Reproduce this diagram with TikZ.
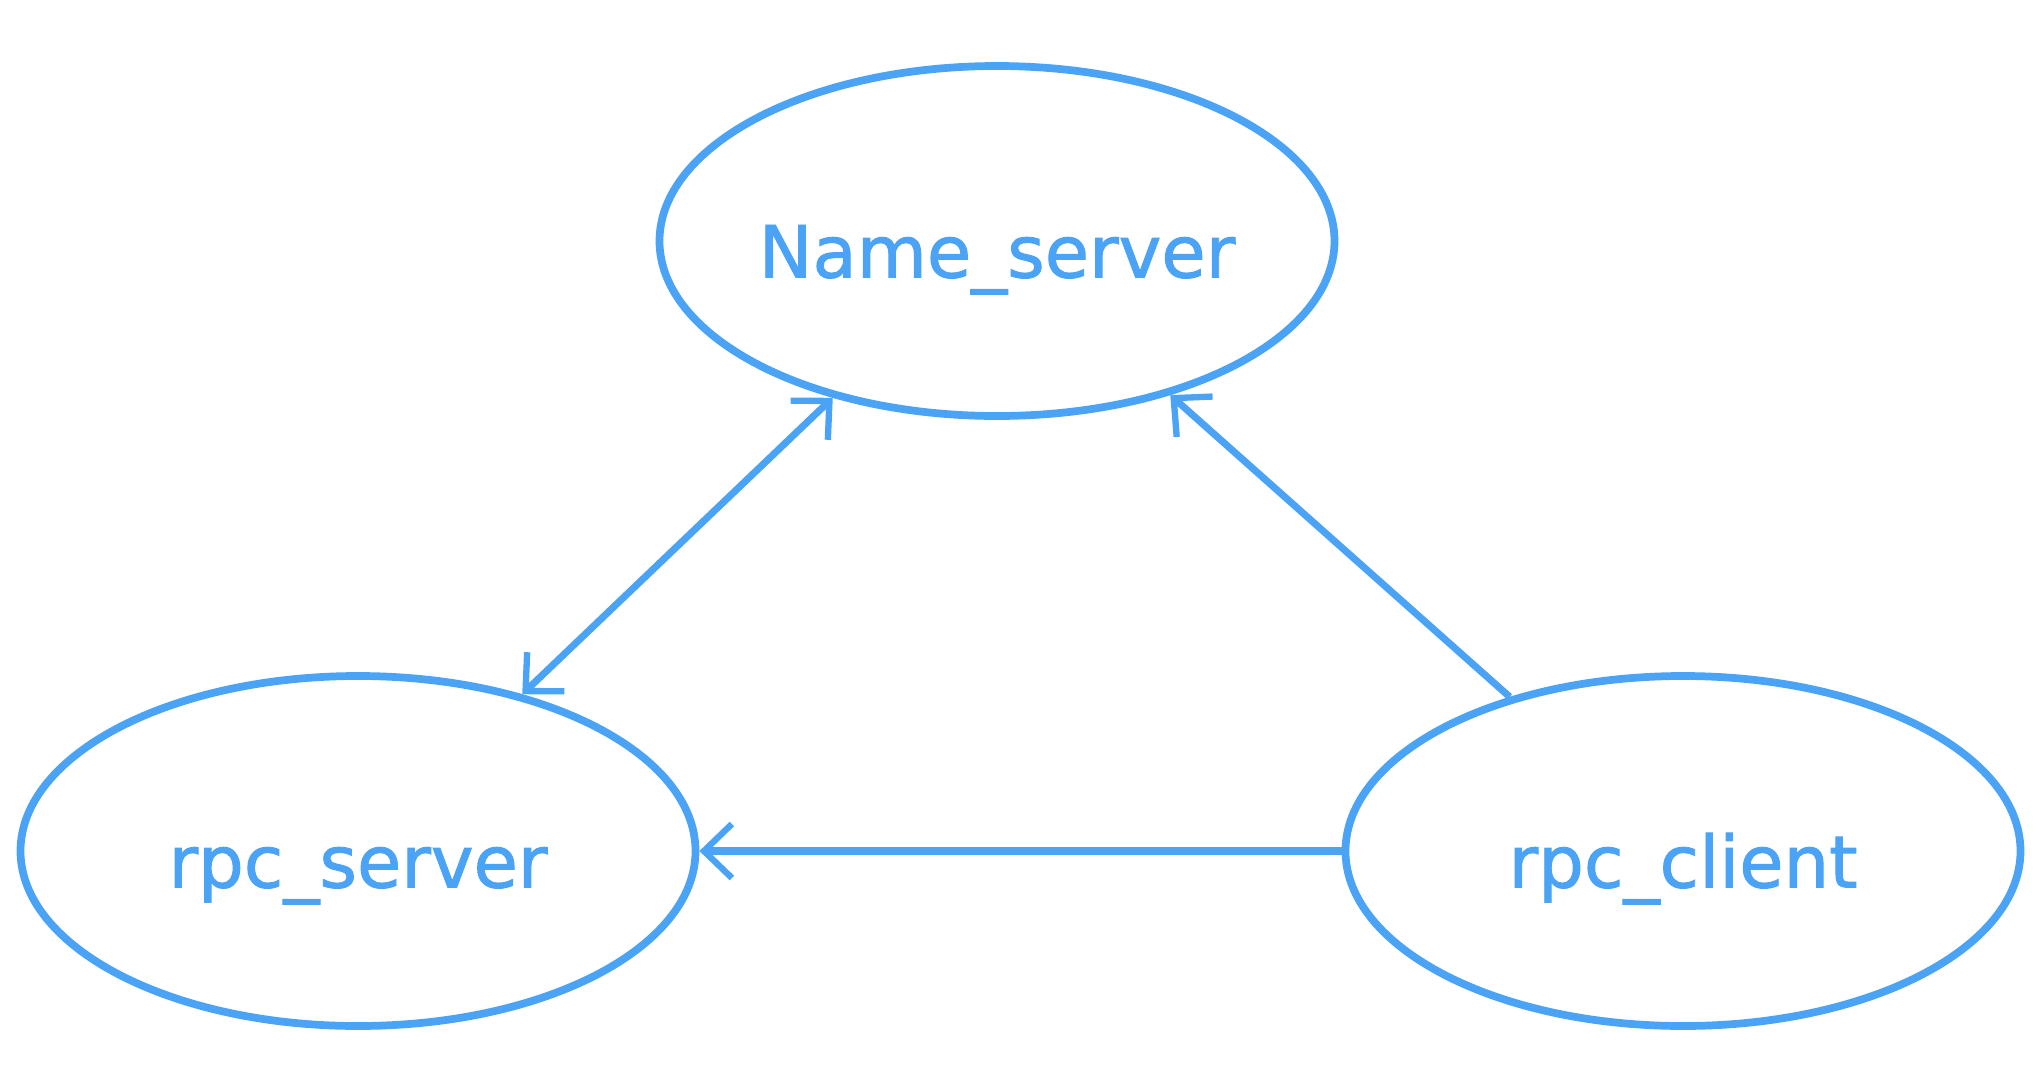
\documentclass[tikz,border=0pt]{standalone}
\usepackage{fontspec}
\setmainfont{DejaVu Sans}
\newfontfamily\procfont{DejaVu Sans}[FakeBold=1.3]
\usetikzlibrary{shapes.geometric,arrows.meta}
\definecolor{sketchblue}{HTML}{4AA3F5}

\begin{document}
\begin{tikzpicture}[
        >={Straight Barb[length=2.8mm,width=5.4mm,line width=1.8pt]},
        proc/.style={ellipse,draw=sketchblue,line width=2.2pt,inner sep=0pt,
            minimum width=6.75cm,minimum height=3.5cm,
            text=sketchblue,font=\procfont\fontsize{20.5}{24}\selectfont,
            text height=0.9cm,text depth=0.17cm},
        link/.style={draw=sketchblue,line width=2pt}
    ]
            \useasboundingbox (0,0) rectangle (20.4,10.84);
            \node[proc] (ns) at (9.97,8.43) {Name\_server};
            \node[proc] (rs) at (3.58,2.33) {rpc\_server};
            \node[proc] (rc) at (16.83,2.33) {rpc\_client};
            \draw[link,<->] (rs) -- (ns);
            \draw[link,->] (rc) -- (ns);
            \draw[link,->] (rc) -- (rs);
        \end{tikzpicture}
\end{document}
